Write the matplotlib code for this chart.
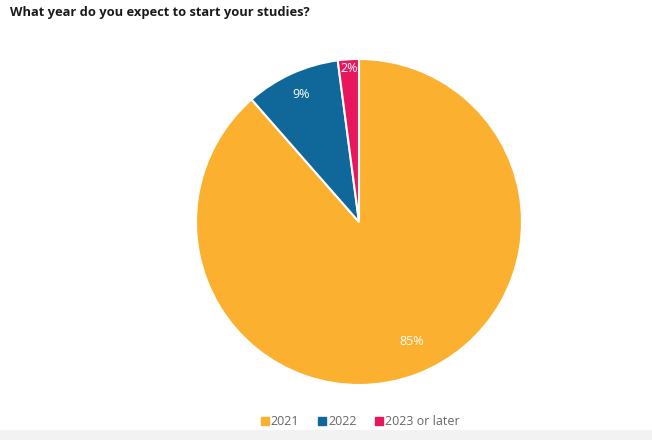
import numpy as np
import matplotlib
matplotlib.use("Agg")
import matplotlib.pyplot as plt
from matplotlib.patches import Rectangle
from matplotlib.lines import Line2D

plt.rcParams['font.family'] = ['Open Sans', 'DejaVu Sans']

# Data
categories = ["2021", "2022", "2023 or later"]
values = [85, 9, 2]
colors = ["#FBB030", "#106799", "#E8175D"]
label_dist = [0.80, 0.86, 0.945]

fig = plt.figure(figsize=(6.52, 4.40), dpi=100)
fig.patch.set_facecolor("white")

# light strip at the bottom
fig.patches.append(Rectangle((0, 0), 1, 10 / 440, transform=fig.transFigure,
                             facecolor="#f2f2f2", edgecolor="none", zorder=0))

ax = fig.add_axes([0.3006, 0.125, 0.5, 0.741])
wedges, _ = ax.pie(values, colors=colors, startangle=90, counterclock=False,
                   radius=1, wedgeprops=dict(edgecolor="white", linewidth=1.5))
ax.set_xlim(-1, 1)
ax.set_ylim(-1, 1)
ax.set_aspect("equal")

for w, v, d in zip(wedges, values, label_dist):
    ang = np.deg2rad((w.theta1 + w.theta2) / 2 + (3 if v == 85 else 0))
    ax.text(d * np.cos(ang), d * np.sin(ang), f"{v}%", color="white",
            ha="center", va="center", fontsize=9)

fig.text(0.015, 0.972, "What year do you expect to start your studies?",
         fontsize=9.3, fontweight="bold", color="#1a1a1a", ha="left", va="center")

handles = [Line2D([], [], marker="s", linestyle="none", markersize=5.5,
                  markerfacecolor=c, markeredgecolor=c) for c in colors]
fig.legend(handles, categories, loc="center", bbox_to_anchor=(0.552, 0.042),
           ncol=3, frameon=False, fontsize=9, labelcolor="#666666",
           handletextpad=0.1, columnspacing=1.4, handlelength=0.8)

fig.savefig("out.png", dpi=100)
